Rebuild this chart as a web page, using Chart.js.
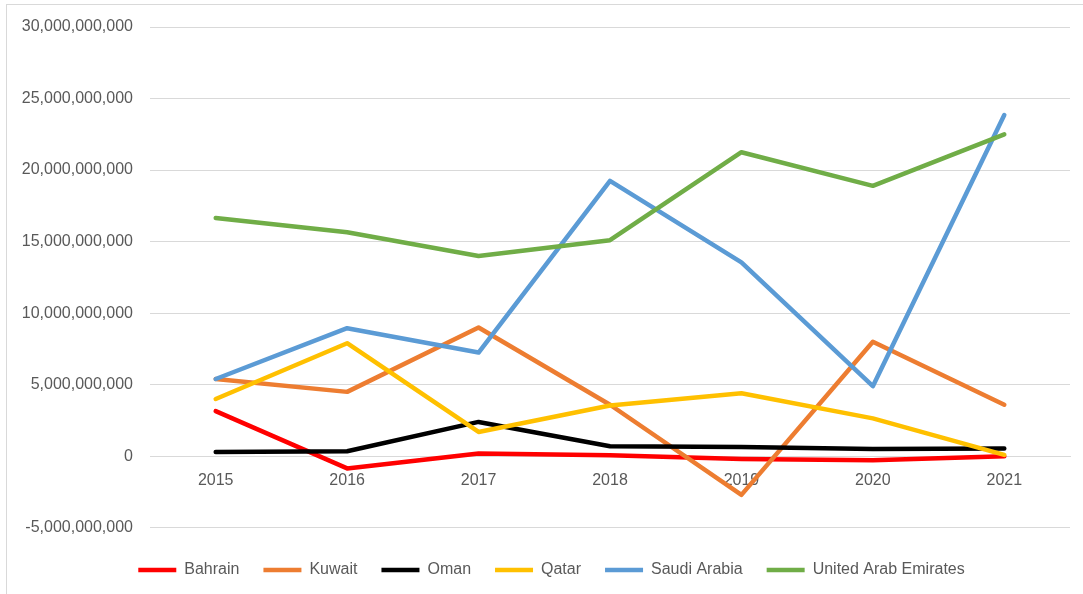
<!DOCTYPE html>
<html>
<head>
<meta charset="utf-8">
<script src="https://cdn.jsdelivr.net/npm/chart.js@4"></script>
<style>
  html, body { margin: 0; padding: 0; background: #fff; }
  .wrap { position: relative; width: 1083px; height: 594px; }
  .frame {
    position: absolute; left: 6px; top: 4px; right: 0; bottom: 0;
    border-left: 1px solid #d9d9d9; border-top: 1px solid #d9d9d9;
    pointer-events: none;
  }
</style>
</head>
<body>
<div class="wrap">
  <canvas id="chart"></canvas>
  <div class="frame"></div>
</div>
<script>
const years = ['2015', '2016', '2017', '2018', '2019', '2020', '2021'];

// values in USD
const bahrain = [3.15e9, -0.85e9, 0.2e9, 0.07e9, -0.2e9, -0.28e9, 0.0e9];
const kuwait = [5.4e9, 4.5e9, 9.0e9, 3.6e9, -2.7e9, 8.0e9, 3.6e9];
const oman = [0.3e9, 0.35e9, 2.4e9, 0.7e9, 0.65e9, 0.5e9, 0.55e9];
const qatar = [4.0e9, 7.9e9, 1.7e9, 3.55e9, 4.4e9, 2.65e9, 0.1e9];
const saudiArabia = [5.4e9, 8.95e9, 7.25e9, 19.25e9, 13.55e9, 4.9e9, 23.85e9];
const uae = [16.65e9, 15.65e9, 14.0e9, 15.1e9, 21.25e9, 18.9e9, 22.5e9];

const series = [
  { label: 'Bahrain', data: bahrain, color: '#FF0000' },
  { label: 'Kuwait', data: kuwait, color: '#ED7D31' },
  { label: 'Oman', data: oman, color: '#000000' },
  { label: 'Qatar', data: qatar, color: '#FFC000' },
  { label: 'Saudi Arabia', data: saudiArabia, color: '#5B9BD5' },
  { label: 'United Arab Emirates', data: uae, color: '#70AD47' }
];

const textColor = '#595959';
const gridColor = '#d9d9d9';
Chart.defaults.font.family = '"Liberation Sans", Arial, sans-serif';
Chart.defaults.font.size = 16;
Chart.defaults.color = textColor;

// legend in the original sits a little right of the canvas centre
const legendShift = {
  id: 'legendShift',
  afterLayout(chart) {
    chart.legend.left += 14;
    chart.legend.right += 14;
  }
};

new Chart(document.getElementById('chart'), {
  type: 'line',
  data: {
    labels: years,
    // later series drawn on top, like the original
    datasets: series.map((s, i) => ({
      label: s.label,
      data: s.data,
      borderColor: s.color,
      backgroundColor: s.color,
      borderWidth: 4.5,
      borderCapStyle: 'round',
      borderJoinStyle: 'round',
      pointRadius: 0,
      tension: 0,
      order: series.length - i
    }))
  },
  options: {
    responsive: true,
    maintainAspectRatio: false,
    animation: false,
    layout: { padding: { left: 5, right: 13, top: 27, bottom: 6 } },
    plugins: {
      tooltip: { enabled: false },
      legend: {
        position: 'bottom',
        // empty title just pushes the row down a bit
        title: { display: true, text: '', font: { size: 1 }, padding: { top: 9, bottom: 0 } },
        labels: {
          usePointStyle: true,
          pointStyle: 'line',
          pointStyleWidth: 38,
          padding: 24,
          color: textColor,
          sort: (a, b) => a.datasetIndex - b.datasetIndex
        }
      }
    },
    scales: {
      x: {
        position: { y: 0 },
        offset: true,
        grid: { display: false, drawTicks: false },
        border: { display: true, color: gridColor, width: 1 },
        ticks: { padding: 15, color: textColor, maxRotation: 0 }
      },
      y: {
        min: -5e9,
        max: 30e9,
        afterFit: s => { s.width = 145; },
        ticks: {
          stepSize: 5e9,
          padding: 17,
          color: textColor,
          callback: v => v.toLocaleString('en-US')
        },
        grid: { color: gridColor, lineWidth: 1, drawTicks: false },
        border: { display: false }
      }
    }
  },
  plugins: [legendShift]
});
</script>
</body>
</html>
